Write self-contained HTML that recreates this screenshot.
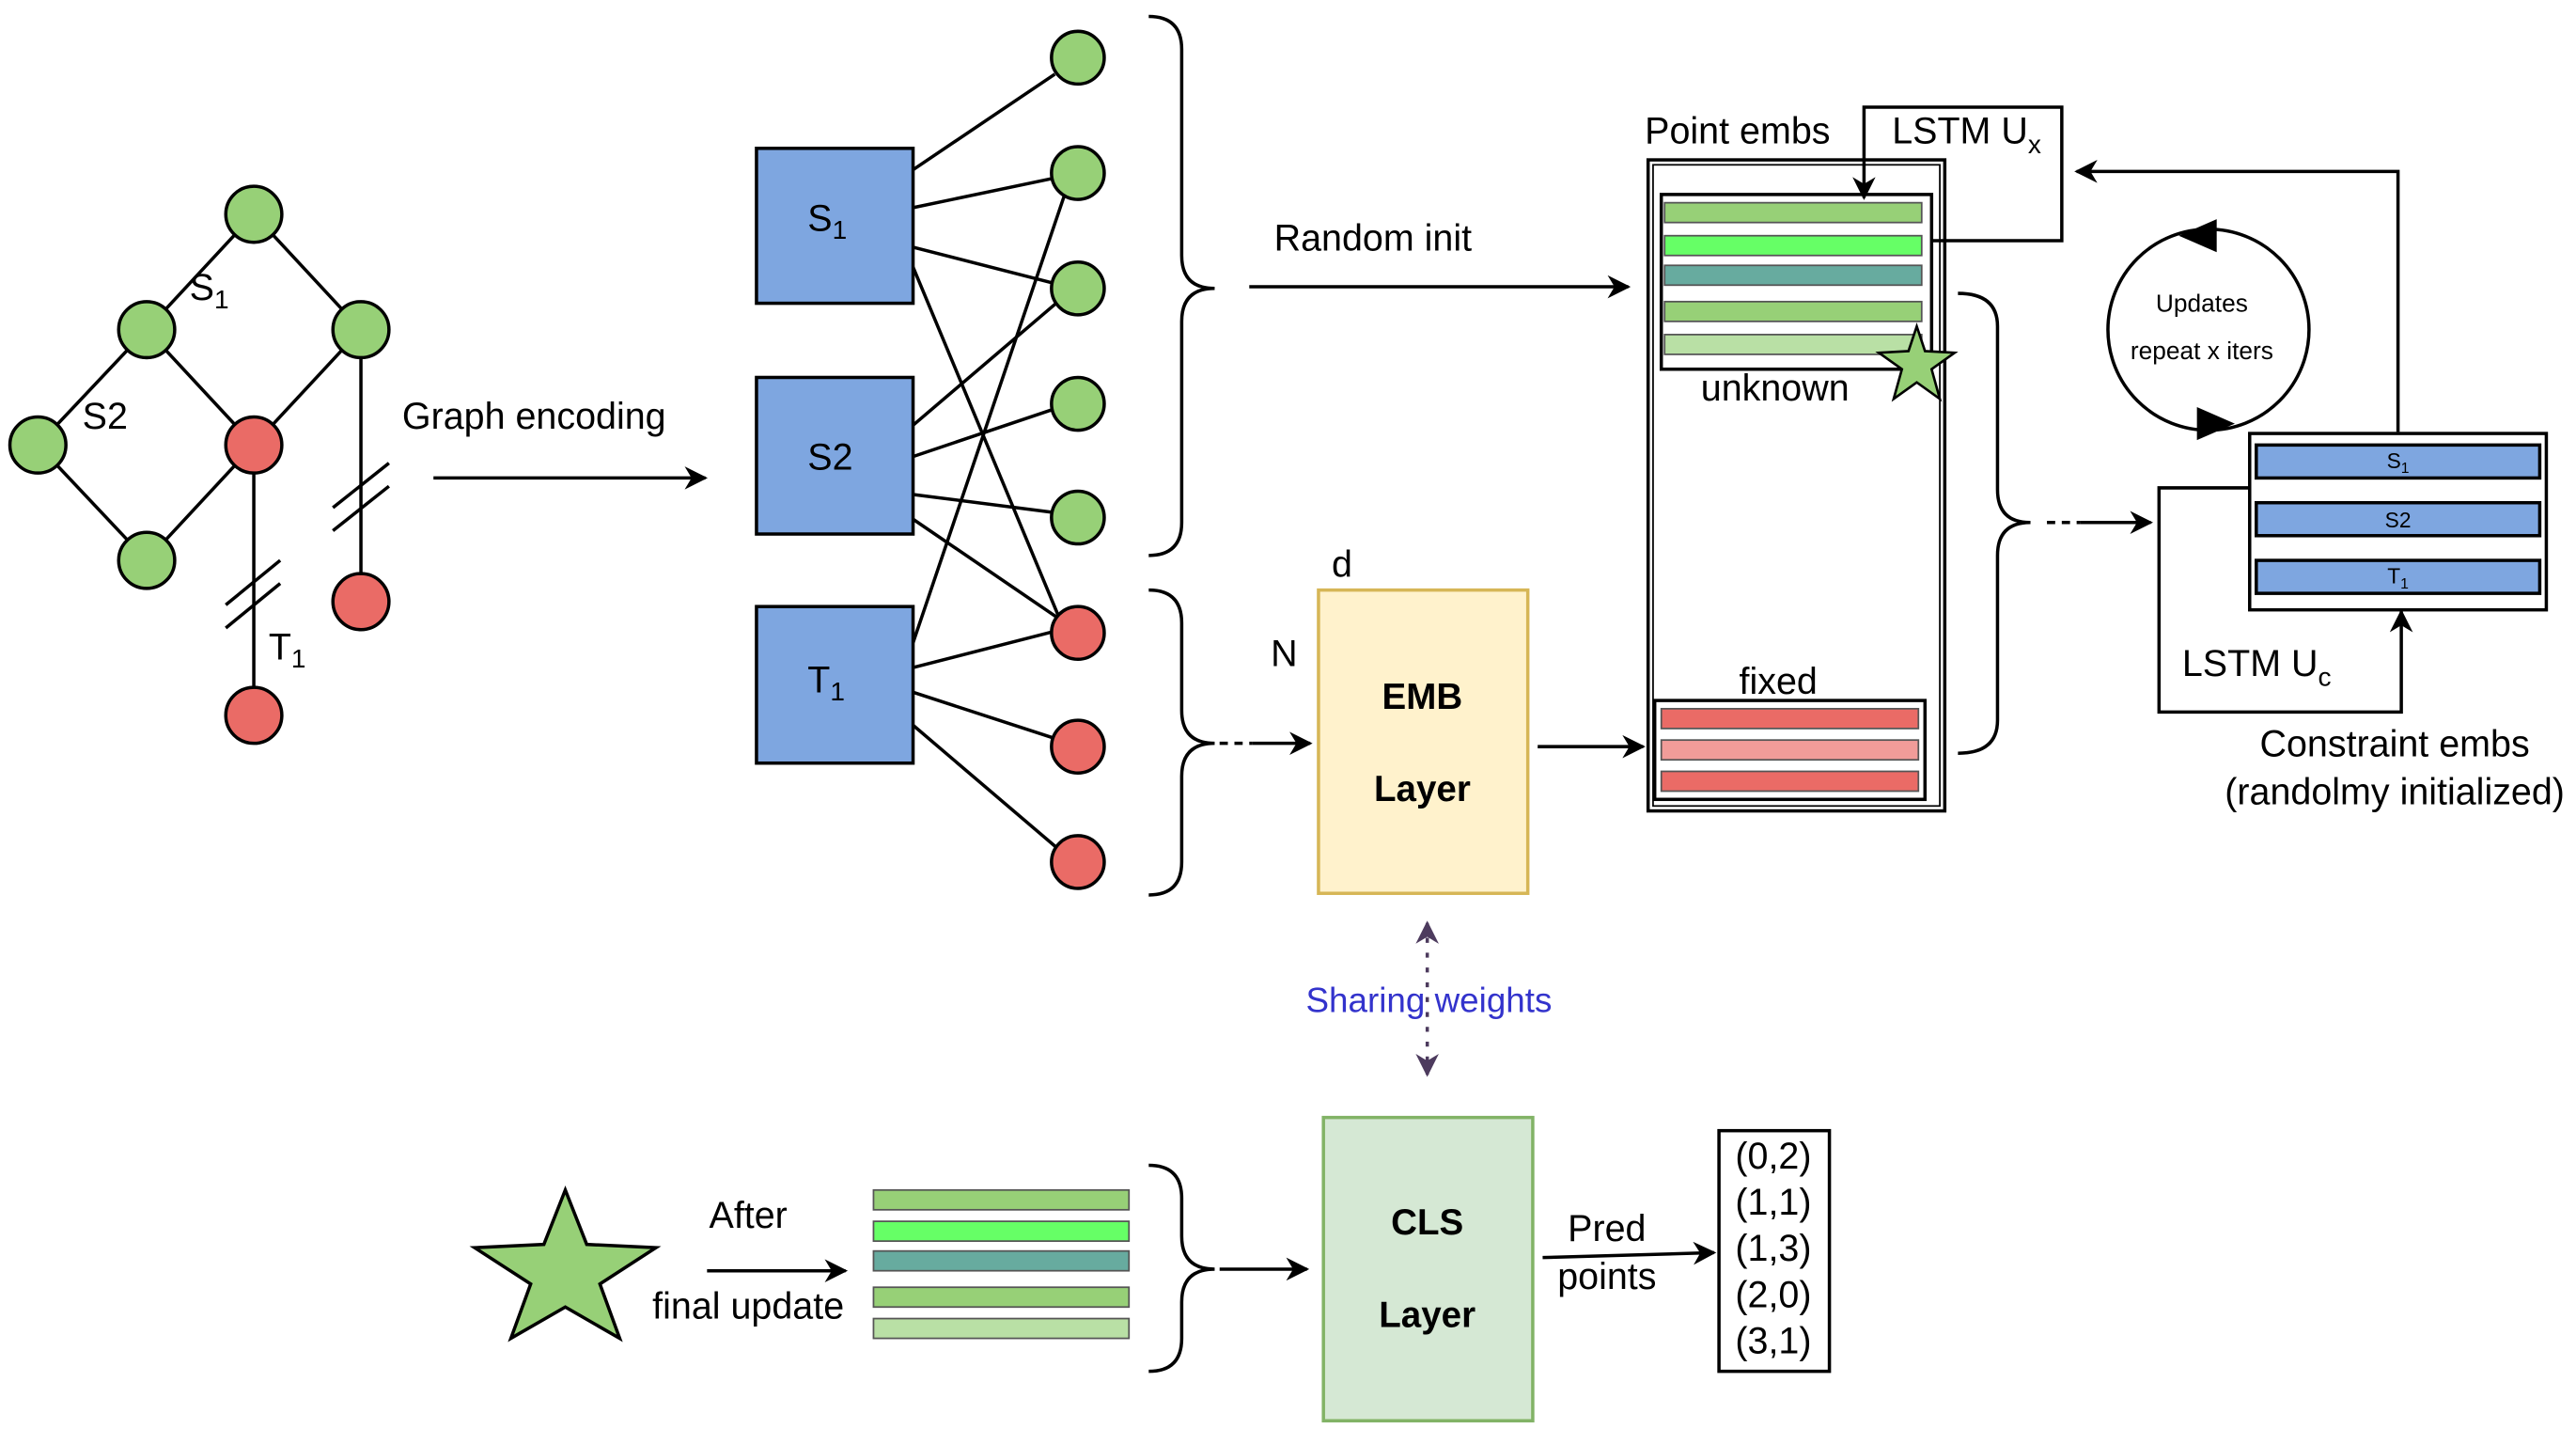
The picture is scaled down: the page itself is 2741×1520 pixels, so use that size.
<!DOCTYPE html>
<html><head><meta charset="utf-8"><style>
html,body{margin:0;padding:0;background:#fff;}
svg{display:block;}
text{font-family:"Liberation Sans",sans-serif;fill:#000;}
</style></head><body>
<svg width="2741" height="1520" viewBox="0 0 1563 867" preserveAspectRatio="none" xmlns="http://www.w3.org/2000/svg">
<defs>
<marker id="ab" viewBox="0 0 10 10" refX="9" refY="5" markerWidth="14" markerHeight="14" orient="auto-start-reverse" markerUnits="userSpaceOnUse"><path d="M0,0 L10,5 L0,10 L3,5 z" fill="#000"/></marker>
<marker id="ap" viewBox="0 0 10 10" refX="9" refY="5" markerWidth="14" markerHeight="14" orient="auto-start-reverse" markerUnits="userSpaceOnUse"><path d="M0,0 L10,5 L0,10 L3,5 z" fill="#4d3b5e"/></marker>
</defs>
<g stroke="#000" stroke-width="2" fill="none">
<line x1="154" y1="130" x2="89" y2="200"/><line x1="154" y1="130" x2="219" y2="200"/>
<line x1="89" y1="200" x2="23" y2="270"/><line x1="89" y1="200" x2="154" y2="270"/>
<line x1="219" y1="200" x2="154" y2="270"/><line x1="23" y1="270" x2="89" y2="340"/>
<line x1="89" y1="340" x2="154" y2="270"/><line x1="154" y1="270" x2="154" y2="434"/>
<line x1="219" y1="200" x2="219" y2="365"/>
<line x1="137" y1="367" x2="170" y2="340"/><line x1="137" y1="381" x2="170" y2="354"/>
<line x1="202" y1="308" x2="236" y2="281"/><line x1="202" y1="322" x2="236" y2="295"/>
<line x1="554" y1="103" x2="640" y2="45"/><line x1="554" y1="126" x2="640" y2="108"/>
<line x1="554" y1="150" x2="640" y2="172"/><line x1="554" y1="162" x2="644" y2="378"/>
<line x1="554" y1="258" x2="642" y2="183"/><line x1="554" y1="277" x2="640" y2="248"/>
<line x1="554" y1="300" x2="640" y2="311"/><line x1="554" y1="315" x2="642" y2="375"/>
<line x1="554" y1="390" x2="646" y2="118"/><line x1="554" y1="405" x2="640" y2="383"/>
<line x1="554" y1="420" x2="640" y2="448"/><line x1="554" y1="440" x2="642" y2="515"/>
</g>
<g stroke="#000" stroke-width="2">
<circle cx="154" cy="130" r="17" fill="#97d077"/><circle cx="89" cy="200" r="17" fill="#97d077"/>
<circle cx="219" cy="200" r="17" fill="#97d077"/><circle cx="23" cy="270" r="17" fill="#97d077"/>
<circle cx="89" cy="340" r="17" fill="#97d077"/><circle cx="154" cy="270" r="17" fill="#ea6b66"/>
<circle cx="219" cy="365" r="17" fill="#ea6b66"/><circle cx="154" cy="434" r="17" fill="#ea6b66"/>
<circle cx="654" cy="35" r="16" fill="#97d077"/><circle cx="654" cy="105" r="16" fill="#97d077"/>
<circle cx="654" cy="175" r="16" fill="#97d077"/><circle cx="654" cy="245" r="16" fill="#97d077"/>
<circle cx="654" cy="314" r="16" fill="#97d077"/><circle cx="654" cy="384" r="16" fill="#ea6b66"/>
<circle cx="654" cy="453" r="16" fill="#ea6b66"/><circle cx="654" cy="523" r="16" fill="#ea6b66"/>
<rect x="459" y="90" width="95" height="94" fill="#7ea6e0"/>
<rect x="459" y="229" width="95" height="95" fill="#7ea6e0"/>
<rect x="459" y="368" width="95" height="95" fill="#7ea6e0"/>
</g>
<g font-size="22.5">
<text x="115" y="182">S<tspan font-size="16" dy="5">1</tspan></text>
<text x="50" y="260">S2</text>
<text x="163" y="400">T<tspan font-size="16" dy="5">1</tspan></text>
<text x="244" y="260">Graph encoding</text>
<text x="490" y="140">S<tspan font-size="16" dy="5">1</tspan></text>
<text x="490" y="285">S2</text>
<text x="490" y="420">T<tspan font-size="16" dy="5">1</tspan></text>
<text x="773" y="152">Random init</text>
<text x="771" y="404">N</text><text x="808" y="350">d</text>
<text x="998" y="87">Point embs</text>
<text x="1148" y="87">LSTM U<tspan font-size="16" dy="6">x</tspan></text>
<text x="1077" y="243" text-anchor="middle">unknown</text>
<text x="1079" y="421" text-anchor="middle">fixed</text>
<text x="1324" y="410">LSTM U<tspan font-size="16" dy="6">c</tspan></text>
<text x="1453" y="459" text-anchor="middle">Constraint embs</text>
<text x="1453" y="488" text-anchor="middle">(randolmy initialized)</text>
<text x="454" y="745" text-anchor="middle">After</text>
<text x="454" y="800" text-anchor="middle">final update</text>
<text x="975" y="753" text-anchor="middle">Pred</text>
<text x="975" y="782" text-anchor="middle">points</text>
<text x="1076" y="709" text-anchor="middle">(0,2)</text>
<text x="1076" y="737" text-anchor="middle">(1,1)</text>
<text x="1076" y="765" text-anchor="middle">(1,3)</text>
<text x="1076" y="793" text-anchor="middle">(2,0)</text>
<text x="1076" y="821" text-anchor="middle">(3,1)</text>
</g>
<text x="867" y="614" font-size="21" text-anchor="middle" style="fill:#3333cc">Sharing weights</text>
<text x="1336" y="189" font-size="15" text-anchor="middle">Updates</text>
<text x="1336" y="218" font-size="15" text-anchor="middle">repeat x iters</text>
<g stroke="#000" stroke-width="2" fill="none">
<line x1="263" y1="290" x2="428" y2="290" marker-end="url(#ab)"/>
<line x1="758" y1="174" x2="988" y2="174" marker-end="url(#ab)"/>
<line x1="740" y1="451" x2="760" y2="451" stroke-dasharray="5,4"/>
<line x1="760" y1="451" x2="795" y2="451" marker-end="url(#ab)"/>
<line x1="933" y1="453" x2="997" y2="453" marker-end="url(#ab)"/>
<path d="M697,10 Q717,10 717,30 L717,155 Q717,175 737,175 Q717,175 717,195 L717,317 Q717,337 697,337"/>
<path d="M697,358 Q717,358 717,378 L717,431 Q717,451 737,451 Q717,451 717,471 L717,523 Q717,543 697,543"/>
<path d="M1188,178 Q1212,178 1212,198 L1212,297 Q1212,317 1232,317 Q1212,317 1212,337 L1212,437 Q1212,457 1188,457"/>
<line x1="1242" y1="317" x2="1262" y2="317" stroke-dasharray="5,4"/>
<line x1="1262" y1="317" x2="1305" y2="317" marker-end="url(#ab)"/>
<path d="M697,707 Q717,707 717,727 L717,750 Q717,770 737,770 Q717,770 717,790 L717,812 Q717,832 697,832"/>
<line x1="740" y1="770" x2="793" y2="770" marker-end="url(#ab)"/>
<line x1="429" y1="771" x2="513" y2="771" marker-end="url(#ab)"/>
<line x1="936" y1="763" x2="1040" y2="760" marker-end="url(#ab)"/>
<rect x="1000" y="97" width="180" height="395"/>
<rect x="1003" y="100" width="174" height="389" stroke-width="1"/>
<rect x="1008" y="118" width="164" height="106"/>
<rect x="1004" y="425" width="164" height="60"/>
<polyline points="1131,95 1131,65 1251,65 1251,146 1172,146"/>
<line x1="1131" y1="95" x2="1131" y2="120" marker-end="url(#ab)"/>
<polyline points="1455,262 1455,104 1260,104" marker-end="url(#ab)"/>
<polyline points="1365,296 1310,296 1310,432 1457,432 1457,371" marker-end="url(#ab)"/>
<circle cx="1340" cy="200" r="61"/>
<rect x="1365" y="263" width="180" height="107"/>
<rect x="1043" y="686" width="67" height="146"/>
</g>
<path d="M1322,143 L1345,133 L1345,153 z" fill="#000"/>
<path d="M1356,257 L1333,267 L1333,247 z" fill="#000"/>
<line x1="866" y1="560" x2="866" y2="652" stroke="#4d3b5e" stroke-width="2" stroke-dasharray="3,6" marker-start="url(#ap)" marker-end="url(#ap)"/>
<g stroke="#555" stroke-width="1">
<rect x="1010" y="123" width="156" height="12" fill="#97d077"/>
<rect x="1010" y="143" width="156" height="12" fill="#66ff66"/>
<rect x="1010" y="161" width="156" height="12" fill="#67ab9f"/>
<rect x="1010" y="183" width="156" height="12" fill="#97d077"/>
<rect x="1010" y="203" width="156" height="12" fill="#b9e0a5"/>
<rect x="1008" y="430" width="156" height="12" fill="#ea6b66"/>
<rect x="1008" y="449" width="156" height="12" fill="#f19c99"/>
<rect x="1008" y="468" width="156" height="12" fill="#ea6b66"/>
<rect x="530" y="722" width="155" height="12" fill="#97d077"/>
<rect x="530" y="741" width="155" height="12" fill="#66ff66"/>
<rect x="530" y="759" width="155" height="12" fill="#67ab9f"/>
<rect x="530" y="781" width="155" height="12" fill="#97d077"/>
<rect x="530" y="800" width="155" height="12" fill="#b9e0a5"/>
</g>
<g stroke="#000" stroke-width="2" fill="#7ea6e0">
<rect x="1369" y="270" width="172" height="20"/>
<rect x="1369" y="305" width="172" height="20"/>
<rect x="1369" y="340" width="172" height="20"/>
</g>
<g font-size="13" text-anchor="middle">
<text x="1455" y="284">S<tspan font-size="9" dy="3">1</tspan></text>
<text x="1455" y="320">S2</text>
<text x="1455" y="354">T<tspan font-size="9" dy="3">1</tspan></text>
</g>
<rect x="800" y="358" width="127" height="184" fill="#fff2cc" stroke="#d6b656" stroke-width="2"/>
<rect x="803" y="678" width="127" height="184" fill="#d5e8d4" stroke="#82b366" stroke-width="2"/>
<g font-size="22" font-weight="bold" text-anchor="middle">
<text x="863" y="430">EMB</text><text x="863" y="486">Layer</text>
<text x="866" y="749">CLS</text><text x="866" y="805">Layer</text>
</g>
<polygon points="343,722 356,755 398,757 364,779 376,812 343,793 310,812 322,779 288,757 330,755" fill="#97d077" stroke="#000" stroke-width="2"/>
<polygon points="1163,198 1168,213 1186,214 1172,224 1177,242 1163,232 1149,242 1154,224 1140,214 1158,213" fill="#97d077" stroke="#000" stroke-width="1.5"/>
</svg>
</body></html>
